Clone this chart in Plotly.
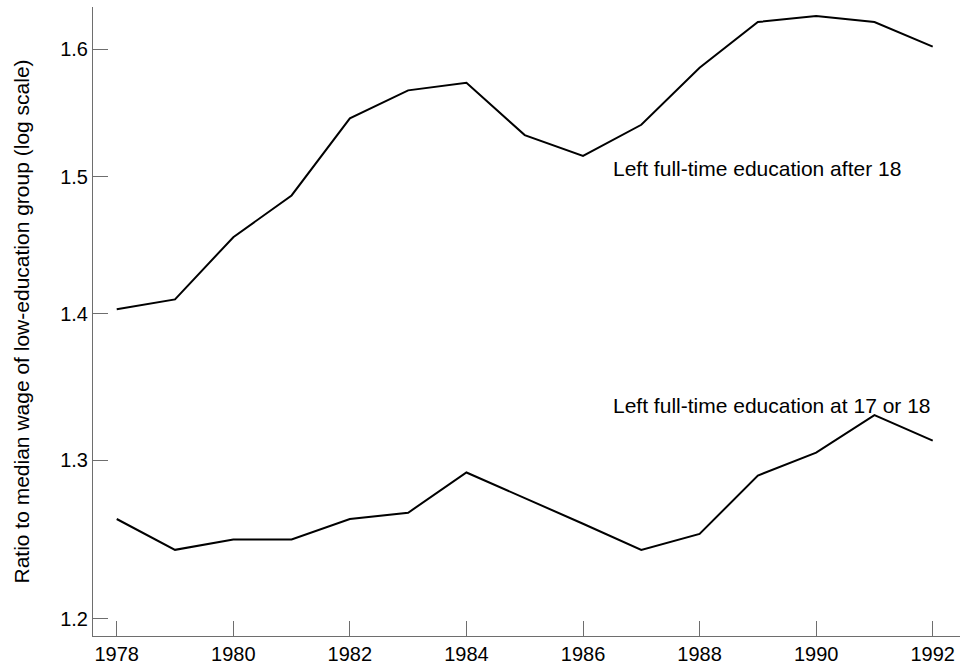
import plotly.graph_objects as go
import math

years = list(range(1978, 1993))
after_18 = [1.403, 1.410, 1.455, 1.486, 1.545, 1.567, 1.573, 1.532, 1.516, 1.540,
            1.585, 1.622, 1.627, 1.622, 1.602]
at_17_18 = [1.262, 1.2425, 1.249, 1.249, 1.262, 1.266, 1.292, 1.2755, 1.259, 1.2425,
            1.2525, 1.290, 1.305, 1.330, 1.313]

y_ticks = [1.2, 1.3, 1.4, 1.5, 1.6]
y_ticktext = ["1.2", "1.3", "1.4", "1.5", "1.6"]
x_ticks = list(range(1978, 1993, 2))

label_after = "Left full-time education after 18"
label_at = "Left full-time education at 17 or 18"
y_title = "Ratio to median wage of low-education group (log scale)"

FONT = "Liberation Sans, Arial, sans-serif"
AXIS_COLOR = "#6e6e6e"

fig = go.Figure()
fig.add_trace(go.Scatter(x=years, y=after_18, mode="lines",
                         line=dict(color="black", width=2), showlegend=False))
fig.add_trace(go.Scatter(x=years, y=at_17_18, mode="lines",
                         line=dict(color="black", width=2), showlegend=False))

fig.add_annotation(x=1986.48, y=0.1779, xref="x", yref="y", text=label_after,
                   showarrow=False, xanchor="left", yanchor="middle",
                   font=dict(family=FONT, size=21, color="black"))
fig.add_annotation(x=1986.48, y=0.1259, xref="x", yref="y", text=label_at,
                   showarrow=False, xanchor="left", yanchor="middle",
                   font=dict(family=FONT, size=21, color="black"))
fig.add_annotation(x=-0.083, y=0.5, xref="paper", yref="paper", text=y_title,
                   showarrow=False, xanchor="center", yanchor="middle", textangle=-90,
                   font=dict(family=FONT, size=21, color="black"))

fig.update_layout(
    width=961, height=666,
    margin=dict(l=93, r=1, t=7, b=27),
    plot_bgcolor="white", paper_bgcolor="white",
    font=dict(family=FONT, size=20, color="black"),
)
fig.update_xaxes(range=[1977.593, 1992.468], tickvals=x_ticks,
                 ticks="inside", ticklen=15, tickwidth=1, tickcolor=AXIS_COLOR,
                 showline=True, linecolor=AXIS_COLOR, linewidth=1,
                 showgrid=False, zeroline=False,
                 tickfont=dict(family=FONT, size=20, color="black"))
fig.update_yaxes(type="log", range=[0.07540, 0.21335],
                 tickvals=y_ticks, ticktext=y_ticktext,
                 ticks="inside", ticklen=15, tickwidth=1, tickcolor=AXIS_COLOR,
                 showline=True, linecolor=AXIS_COLOR, linewidth=1,
                 showgrid=False, zeroline=False,
                 tickfont=dict(family=FONT, size=20, color="black"))

fig.write_html("out.html")
